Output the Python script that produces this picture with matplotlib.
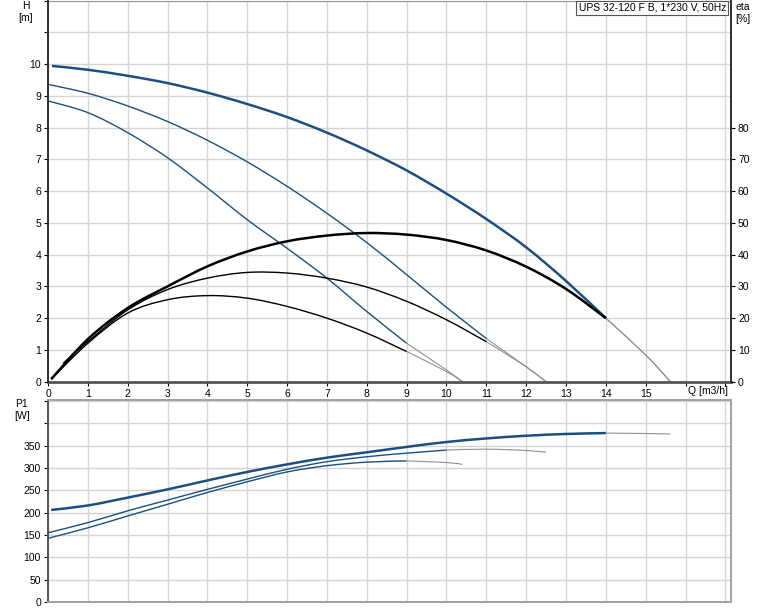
import numpy as np
import matplotlib
matplotlib.use('Agg')
import matplotlib.pyplot as plt
from matplotlib.path import Path
from matplotlib.patches import PathPatch

plt.rcParams['font.family'] = ['Liberation Sans', 'DejaVu Sans']

# Speed 3 (max) curves
q3_h = [0.1, 1, 2, 3, 4, 5, 6, 7, 8, 9, 10, 11, 12, 13, 14, 15, 15.62]
h3 = [9.94, 9.82, 9.63, 9.40, 9.10, 8.74, 8.33, 7.84, 7.28, 6.65, 5.92, 5.12, 4.23, 3.17, 2.0, 0.84, 0.0]
q3_eta = [0.08, 1, 2, 3, 4, 5, 6, 7, 8, 9, 10, 11, 12, 13, 14, 15, 15.62]
eta3 = [0.8, 13.4, 23.2, 30, 36.3, 41, 44.2, 46, 46.8, 46.3, 44.6, 41.3, 36.2, 29.2, 20, 8.4, 0]
q3_p = [0.08, 1, 2, 3, 4, 5, 6, 7, 8, 9, 10, 11, 12, 13, 14, 15, 15.62]
p3 = [206, 216, 233.6, 252, 272, 291, 308, 323, 335, 347, 358, 366, 372, 376, 378, 377, 376]

# Speed 2
q2_h = [0, 1, 2, 3, 4, 5, 6, 7, 8, 9, 10, 11, 12, 12.5]
h2 = [9.36, 9.08, 8.68, 8.19, 7.6, 6.92, 6.15, 5.3, 4.38, 3.37, 2.34, 1.36, 0.47, 0.0]
q2_eta = [0.38, 1, 2, 3, 4, 5, 6, 7, 8, 9, 10, 11, 12, 12.5]
eta2 = [5.8, 12.6, 22.6, 29, 32.6, 34.4, 34.2, 32.6, 29.8, 25.3, 19.5, 12.6, 4.7, 0]
q2_p = [0, 1, 2, 3, 4, 5, 6, 7, 8, 9, 10, 11, 12, 12.5]
p2 = [155, 177.6, 204, 228, 252, 275, 297, 314, 325, 333, 340, 342, 339, 335]

# Speed 1
q1_h = [0, 1, 2, 3, 4, 5, 6, 7, 8, 9, 10, 10.4]
h1 = [8.84, 8.47, 7.84, 7.05, 6.1, 5.1, 4.2, 3.26, 2.21, 1.21, 0.37, 0.0]
q1_eta = [0.08, 1, 2, 3, 4, 5, 6, 7, 8, 9, 10, 10.4]
eta1 = [0.8, 12.1, 21.6, 25.8, 27.1, 26.3, 23.7, 20, 15.3, 9.5, 3.2, 0]
q1_p = [0, 1, 2, 3, 4, 5, 6, 7, 8, 9, 10, 10.4]
p1 = [142.5, 166, 192.5, 218.7, 245, 269, 291, 305, 313, 315.7, 312, 308]

# where the solid part of each speed ends (thin grey after)
cut3, cut2, cut1 = 14, 11, 9

title = "UPS 32-120 F B, 1*230 V, 50Hz"

BLUE = '#1b4f80'
GREY = '#8d9199'
GRID = '#d4d4d4'
DARK = '#333333'


def smooth_path(x, y):
    # cubic bezier through the read points (catmull-rom tangents)
    pts = np.column_stack([x, y])
    n = len(pts)
    verts = [pts[0]]
    codes = [Path.MOVETO]
    for i in range(n - 1):
        p0 = pts[i - 1] if i > 0 else pts[i]
        p1_, p2_ = pts[i], pts[i + 1]
        p3_ = pts[i + 2] if i + 2 < n else pts[i + 1]
        c1 = p1_ + (p2_ - p0) / 6.0
        c2 = p2_ - (p3_ - p1_) / 6.0
        verts += [c1, c2, p2_]
        codes += [Path.CURVE4] * 3
    return Path(verts, codes)


def split_plot(ax, q, v, cut, color, lw, scale=1.0):
    q = np.array(q, dtype=float)
    v = np.array(v, dtype=float) * scale
    m1 = q <= cut
    m2 = q >= cut
    ax.add_patch(PathPatch(smooth_path(q[m1], v[m1]), fill=False, ec=color, lw=lw,
                           capstyle='butt', zorder=3))
    if m2.sum() > 1:
        ax.add_patch(PathPatch(smooth_path(q[m2], v[m2]), fill=False, ec=GREY, lw=0.8,
                               zorder=2))


fig = plt.figure(figsize=(7.74, 6.11), dpi=100)
W, H = 774, 611
ax = fig.add_axes([48 / W, 1 - 381.7 / H, 683 / W, 381.2 / H])
axp = fig.add_axes([48 / W, 1 - 602 / H, 683 / W, 202 / H])

xmax = 17.14
for a in (ax, axp):
    a.set_xlim(0, xmax)
    a.set_xticks(range(0, 18))
    a.grid(True, color=GRID, lw=1.0, zorder=0)
    a.set_axisbelow(True)
    a.tick_params(labelsize=7.5, length=3, width=0.8, colors='black', pad=2)

# ---- top chart: H and eta ----
ax.set_ylim(0, 12)
ax.set_yticks(range(0, 13))
ax.set_yticklabels([str(i) if i <= 10 else '' for i in range(0, 13)])
ax.set_xticklabels([str(i) if i <= 15 else '' for i in range(0, 18)])

split_plot(ax, q3_h, h3, cut3, BLUE, 1.8)
split_plot(ax, q2_h, h2, cut2, BLUE, 1.0)
split_plot(ax, q1_h, h1, cut1, BLUE, 1.0)
# eta is drawn on the same scale (10 % per metre)
split_plot(ax, q3_eta, eta3, cut3, 'black', 1.8, scale=0.1)
split_plot(ax, q2_eta, eta2, cut2, 'black', 1.0, scale=0.1)
split_plot(ax, q1_eta, eta1, cut1, 'black', 1.0, scale=0.1)

axr = ax.twinx()
axr.set_ylim(0, 120)
axr.set_yticks(range(0, 90, 10))
axr.tick_params(labelsize=7.5, length=3, width=0.8, pad=2)

for s in ('left', 'right'):
    ax.spines[s].set_color(DARK)
    ax.spines[s].set_linewidth(1.4)
    axr.spines[s].set_color(DARK)
    axr.spines[s].set_linewidth(1.4)
ax.spines['bottom'].set_color('#555555')
ax.spines['bottom'].set_linewidth(2.0)
ax.spines['top'].set_color('#999999')
axr.spines['top'].set_visible(False)
axr.spines['bottom'].set_visible(False)

fig.text(26 / W, 1 - 12 / H, 'H\n[m]', fontsize=7.5, ha='center', va='center', linespacing=1.3)
fig.text(743 / W, 1 - 13 / H, 'eta\n[%]', fontsize=7.5, ha='center', va='center', linespacing=1.3)
fig.text(708 / W, 1 - 391 / H, 'Q [m3/h]', fontsize=7.5, ha='center', va='center')

fig.text(726 / W, 1 - 8 / H, title, ha='right', va='center', fontsize=7.5,
         bbox=dict(boxstyle='square,pad=0.22', fc='white', ec='#555555', lw=0.8), zorder=5)

# ---- bottom chart: P1 ----
axp.set_ylim(0, 452)
axp.set_yticks(range(0, 451, 50))
axp.set_yticklabels([str(v) if v <= 350 else '' for v in range(0, 451, 50)])
axp.set_xticklabels([])
axp.tick_params(axis='x', length=0)

split_plot(axp, q3_p, p3, cut3, BLUE, 1.8)
split_plot(axp, q2_p, p2, cut2 - 1, BLUE, 1.0)
split_plot(axp, q1_p, p1, cut1, BLUE, 1.0)

axp.spines['left'].set_color('#555555')
axp.spines['left'].set_linewidth(1.4)
for s in ('top', 'right', 'bottom'):
    axp.spines[s].set_color('#a0a0a0')
    axp.spines[s].set_linewidth(1.4)

fig.text(22 / W, 1 - 410 / H, 'P1\n[W]', fontsize=7.5, ha='center', va='center', linespacing=1.3)

fig.savefig('out.png', dpi=100)
